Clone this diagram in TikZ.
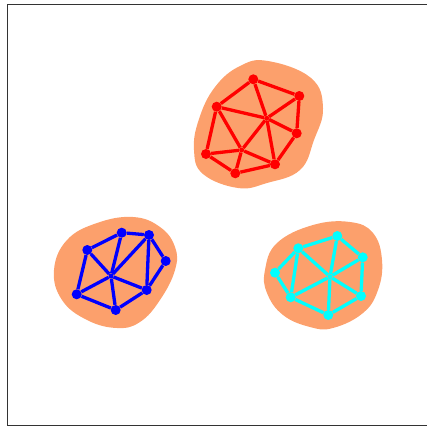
\documentclass[tikz,border=0pt]{standalone}
\usepackage{tikz}
\usetikzlibrary{positioning}

\definecolor{blobcol}{RGB}{252,160,108}
\definecolor{framecol}{RGB}{51,51,51}
\definecolor{aqua}{RGB}{0,255,255}

\begin{document}
\begin{tikzpicture}[
  x=1pt, y=-1pt,
  vtx/.style={circle, fill=#1, inner sep=0pt, minimum size=10pt},
  hub/.style={circle, fill=#1, inner sep=0pt, minimum size=5pt},
  edge/.style={draw=#1, line width=3.3pt},
  blob/.style={fill=blobcol, draw=none},
]
\useasboundingbox (0,0) rectangle (427,428);

% Frame
\draw[framecol, line width=1pt] (430,4.5) -- (7,4.5) -- (7,425.5) -- (430,425.5);

% Blobs
\path[blob] plot[smooth cycle, tension=0.7] coordinates {
  (268,61) (311,78) (323,108) (314,140) (300,170) (267,183)
  (238,188) (203,174) (194,150) (199,119) (215,87) (240,66)};
\path[blob] plot[smooth cycle, tension=0.7] coordinates {
  (133,217) (160,227) (175,247) (175,270) (160,300) (140,322)
  (117,328) (87,320) (62,300) (54,270) (67,240) (97,223)};
\path[blob] plot[smooth cycle, tension=0.7] coordinates {
  (350,222) (373,233) (382,260) (378,290) (363,313) (333,328)
  (310,327) (283,315) (267,293) (265,270) (277,243) (313,225)};

% Red graph
\node[vtx=red] (r1) at (253.3,79.3) {};
\node[vtx=red] (r2) at (299.3,96) {};
\node[vtx=red] (r3) at (216.7,106.7) {};
\node[hub=red] (r4) at (266.7,118.3) {};
\node[vtx=red] (r5) at (296.7,133.3) {};
\node[vtx=red] (r6) at (206,154) {};
\node[hub=red] (r7) at (241.7,150) {};
\node[vtx=red] (r8) at (275,164.3) {};
\node[vtx=red] (r9) at (235.3,173.3) {};

\draw[edge=red] (r1) -- (r2);
\draw[edge=red] (r1) -- (r3);
\draw[edge=red] (r1) -- (r4);
\draw[edge=red] (r2) -- (r4);
\draw[edge=red] (r2) -- (r5);
\draw[edge=red] (r3) -- (r4);
\draw[edge=red] (r3) -- (r6);
\draw[edge=red] (r3) -- (r7);
\draw[edge=red] (r4) -- (r5);
\draw[edge=red] (r4) -- (r7);
\draw[edge=red] (r4) -- (r8);
\draw[edge=red] (r5) -- (r8);
\draw[edge=red] (r6) -- (r7);
\draw[edge=red] (r6) -- (r9);
\draw[edge=red] (r7) -- (r9);
\draw[edge=red] (r7) -- (r8);
\draw[edge=red] (r9) -- (r8);

% Blue graph
\node[vtx=blue] (b1) at (121.7,232.7) {};
\node[vtx=blue] (b2) at (149,235) {};
\node[vtx=blue] (b3) at (87.3,250) {};
\node[vtx=blue] (b4) at (165.7,261) {};
\node[hub=blue] (b5) at (111,276) {};
\node[vtx=blue] (b6) at (146.7,290) {};
\node[vtx=blue] (b7) at (76.7,294.3) {};
\node[vtx=blue] (b8) at (115.7,310) {};

\draw[edge=blue] (b1) -- (b2);
\draw[edge=blue] (b1) -- (b3);
\draw[edge=blue] (b1) -- (b5);
\draw[edge=blue] (b2) -- (b5);
\draw[edge=blue] (b2) -- (b4);
\draw[edge=blue] (b2) -- (b6);
\draw[edge=blue] (b3) -- (b5);
\draw[edge=blue] (b3) -- (b7);
\draw[edge=blue] (b4) -- (b6);
\draw[edge=blue] (b5) -- (b6);
\draw[edge=blue] (b5) -- (b7);
\draw[edge=blue] (b5) -- (b8);
\draw[edge=blue] (b7) -- (b8);
\draw[edge=blue] (b8) -- (b6);

% Cyan graph
\node[vtx=aqua] (c1) at (337.3,236) {};
\node[vtx=aqua] (c2) at (298.3,248.3) {};
\node[vtx=aqua] (c3) at (362.7,257.3) {};
\node[vtx=aqua] (c4) at (275,272.7) {};
\node[hub=aqua] (c5) at (330,276.7) {};
\node[vtx=aqua] (c6) at (290.7,297.3) {};
\node[vtx=aqua] (c7) at (361,296) {};
\node[vtx=aqua] (c8) at (328.3,315) {};

\draw[edge=aqua] (c1) -- (c2);
\draw[edge=aqua] (c1) -- (c3);
\draw[edge=aqua] (c1) -- (c5);
\draw[edge=aqua] (c2) -- (c4);
\draw[edge=aqua] (c2) -- (c5);
\draw[edge=aqua] (c2) -- (c6);
\draw[edge=aqua] (c3) -- (c5);
\draw[edge=aqua] (c3) -- (c7);
\draw[edge=aqua] (c4) -- (c6);
\draw[edge=aqua] (c5) -- (c6);
\draw[edge=aqua] (c5) -- (c7);
\draw[edge=aqua] (c5) -- (c8);
\draw[edge=aqua] (c6) -- (c8);
\draw[edge=aqua] (c7) -- (c8);

\end{tikzpicture}
\end{document}
